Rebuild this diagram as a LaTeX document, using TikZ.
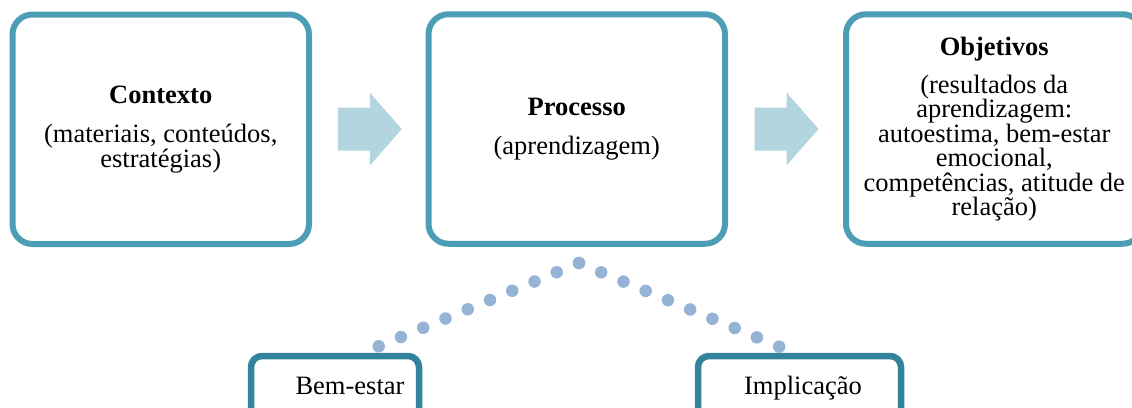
\documentclass[tikz,border=0pt]{standalone}
\usepackage{fontspec}
\setmainfont{Liberation Serif}
\usetikzlibrary{calc}
\definecolor{boxteal}{RGB}{75,158,182}
\definecolor{lowteal}{RGB}{49,132,155}
\definecolor{arrowblue}{RGB}{178,213,223}
\definecolor{dotblue}{RGB}{149,179,215}

\begin{document}
\begin{tikzpicture}[x=1pt, y=-1pt,
    font=\fontsize{26.5}{24.5}\selectfont,
    topbox/.style={draw=boxteal, line width=6pt, rounded corners=20pt, outer sep=0pt,
        minimum width=296.5pt, minimum height=229.5pt, align=center, inner sep=0pt},
    lowbox/.style={draw=lowteal, line width=6.5pt, rounded corners=11pt, outer sep=0pt,
        anchor=north, minimum height=64pt, text height=18pt, text depth=6pt},
    bigarrow/.style={fill=arrowblue},
    dotline/.style={dotblue, line width=12.5pt, line cap=round, dash pattern=on 0pt off 24.1pt}]
    \useasboundingbox (0,0) rectangle (1132,407);

    % top row
    \node[topbox] (ctx) at (160.75,129.25) {\textbf{Contexto}\\[15pt](materiais, conteúdos,\\estratégias)};
    \node[topbox] (proc) at (576.75,129) {\textbf{Processo}\\[15pt](aprendizagem)};
    \node[topbox] (obj) at (994.25,129) {\textbf{Objetivos}\\[13.5pt](resultados da\\aprendizagem:\\autoestima, bem-estar\\emocional,\\competências, atitude de\\relação)};

    % block arrows between the boxes
    \foreach \a/\b in {ctx/proc, proc/obj}
        \fill[bigarrow] ($(\a.east)!0.5!(\b.west)+(1,0)$) ++(-32,-21.5) -- ++(32,0) -- ++(0,-15)
            -- ++(32,36.5) -- ++(-32,36.5) -- ++(0,-15) -- ++(-32,0) -- cycle;

    % bottom row
    \node[lowbox, minimum width=168pt] (bem) at (335,356) {\hspace*{30pt}Bem-estar};
    \node[lowbox, minimum width=203pt] (impl) at (799.5,356) {\hspace*{7pt}Implicação};

    \coordinate (peak) at (579,263);
    \coordinate (dotL) at (377,347);
    \coordinate (dotR) at (780,347);
    \draw[dotline] (peak) -- (dotL);
    \draw[dotline] (peak) -- (dotR);
\end{tikzpicture}
\end{document}
